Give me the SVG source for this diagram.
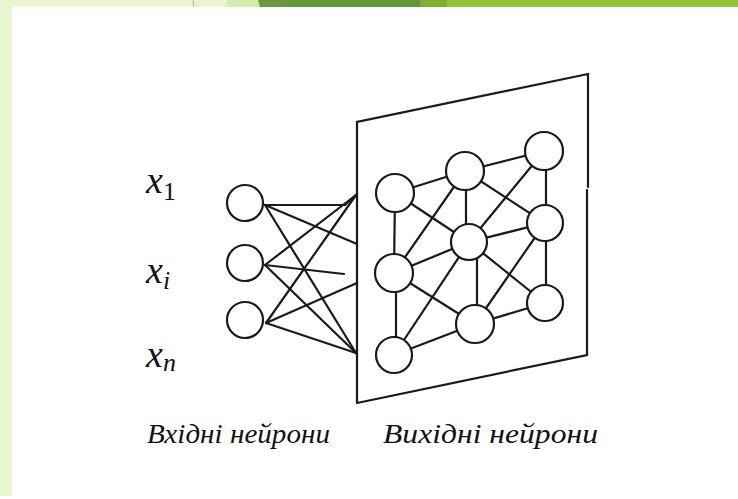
<svg xmlns="http://www.w3.org/2000/svg" width="738" height="499" viewBox="0 0 738 499">
<style>
.ln{stroke:#1a1a1a;stroke-width:2.2;fill:none;stroke-linecap:round}
.nd{fill:#fff;stroke:#1a1a1a;stroke-width:2.2}
</style>
<rect x="0" y="0" width="738" height="499" fill="#fff"/>
<g id="decor">
<rect x="0" y="0" width="12" height="496" fill="#E8F5D0"/>
<rect x="0" y="0" width="227" height="7" fill="#E8F5D0"/>
<line x1="193" y1="0" x2="194" y2="7" stroke="#b0b0b0" stroke-width="1"/>
<polygon points="227,0 258,0 260,7 227,7" fill="#D6EAAE"/>
<polygon points="258,0 287,0 287,7 260,7" fill="#6A9A40"/>
<rect x="287" y="0" width="133" height="7" fill="#64963A"/>
<rect x="420" y="0" width="27" height="7" fill="#80B030"/>
<rect x="447" y="0" width="291" height="7" fill="#95C43A"/>
</g>
<g id="panel">
<path class="ln" d="M357,403 L357,122 L588,74 L588,187 M587,190 L587,355 L357,403"/>
</g>
<g id="connectors">
<line class="ln" x1="265" y1="205" x2="345" y2="205"/>
<line class="ln" x1="345" y1="205" x2="356" y2="195"/>
<line class="ln" x1="265" y1="205" x2="357" y2="244"/>
<line class="ln" x1="265" y1="205" x2="356" y2="353"/>
<line class="ln" x1="265" y1="265" x2="356" y2="195"/>
<line class="ln" x1="265" y1="265" x2="344" y2="274"/>
<line class="ln" x1="265" y1="265" x2="356" y2="353"/>
<line class="ln" x1="266" y1="323" x2="356" y2="195"/>
<line class="ln" x1="266" y1="323" x2="357" y2="283"/>
<line class="ln" x1="266" y1="323" x2="356" y2="353"/>
<line class="ln" x1="395" y1="193" x2="465" y2="171"/>
<line class="ln" x1="395" y1="193" x2="394" y2="273"/>
<line class="ln" x1="395" y1="193" x2="469" y2="242"/>
<line class="ln" x1="465" y1="171" x2="544" y2="151"/>
<line class="ln" x1="466" y1="171" x2="466" y2="242"/>
<line class="ln" x1="465" y1="171" x2="545" y2="223"/>
<line class="ln" x1="465" y1="171" x2="394" y2="273"/>
<line class="ln" x1="546" y1="151" x2="546" y2="223"/>
<line class="ln" x1="544" y1="151" x2="469" y2="242"/>
<line class="ln" x1="545" y1="223" x2="469" y2="242"/>
<line class="ln" x1="545" y1="223" x2="475" y2="324"/>
<line class="ln" x1="546" y1="223" x2="546" y2="303"/>
<line class="ln" x1="394" y1="273" x2="469" y2="242"/>
<line class="ln" x1="477" y1="242" x2="477" y2="324"/>
<line class="ln" x1="469" y1="242" x2="545" y2="303"/>
<line class="ln" x1="469" y1="242" x2="394" y2="355"/>
<line class="ln" x1="394" y1="273" x2="475" y2="324"/>
<line class="ln" x1="396" y1="273" x2="396" y2="355"/>
<line class="ln" x1="394" y1="355" x2="475" y2="324"/>
<line class="ln" x1="475" y1="324" x2="545" y2="303"/>
</g>
<g id="in1"><circle class="nd" cx="245" cy="203" r="18"/></g>
<g id="in2"><circle class="nd" cx="245" cy="263" r="18"/></g>
<g id="in3"><circle class="nd" cx="245" cy="320" r="18"/></g>
<g id="nA"><circle class="nd" cx="395" cy="193" r="19"/></g>
<g id="nB"><circle class="nd" cx="465" cy="171" r="19"/></g>
<g id="nC"><circle class="nd" cx="544" cy="151" r="19"/></g>
<g id="nD"><circle class="nd" cx="469" cy="242" r="18"/></g>
<g id="nE"><circle class="nd" cx="545" cy="223" r="18"/></g>
<g id="nF"><circle class="nd" cx="394" cy="273" r="19"/></g>
<g id="nG"><circle class="nd" cx="545" cy="303" r="18"/></g>
<g id="nH"><circle class="nd" cx="475" cy="324" r="19"/></g>
<g id="nI"><circle class="nd" cx="394" cy="355" r="18"/></g>
<g id="labels" font-family="Liberation Serif, serif" font-style="italic" fill="#111">
<text x="146" y="193" font-size="38">x<tspan font-style="normal" font-size="26" dy="7">1</tspan></text>
<text x="146" y="283" font-size="38">x<tspan font-size="26" dy="6">i</tspan></text>
<text x="146" y="367" font-size="38">x<tspan font-size="26" dy="4">n</tspan></text>
<text x="147" y="443" font-size="27" textLength="183" lengthAdjust="spacingAndGlyphs">Вхідні нейрони</text>
<text x="383" y="443" font-size="27" textLength="215" lengthAdjust="spacingAndGlyphs">Вихідні нейрони</text>
</g>
</svg>
